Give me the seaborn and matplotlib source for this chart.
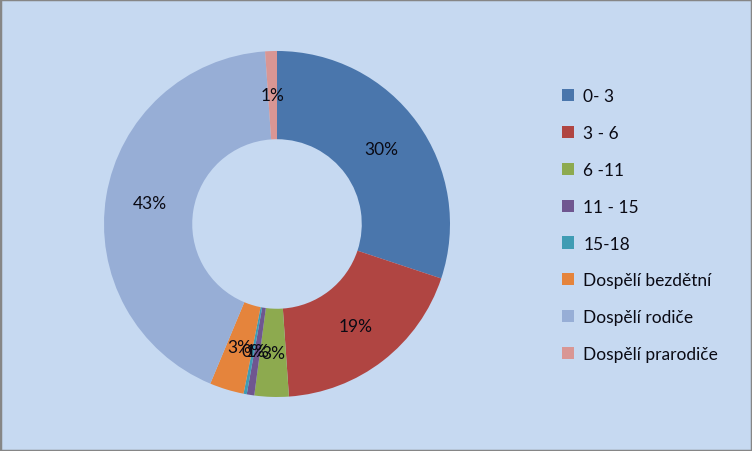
import matplotlib
matplotlib.use("Agg")
import matplotlib.pyplot as plt
import seaborn as sns
from matplotlib.patches import Rectangle

categories = ["0- 3", "3 - 6", "6 -11", "11 - 15", "15-18",
              "Dospělí bezdětní", "Dospělí rodiče", "Dospělí prarodiče"]
shares = [30.1, 18.8, 3.2, 0.7, 0.3, 3.2, 42.6, 1.1]
colors = ["#4A76AC", "#B04542", "#8DAA4F", "#6F5690", "#3F9CB4",
          "#E5843C", "#97AED6", "#D99694"]

sns.set_style("white")
plt.rcParams["font.family"] = ["Lato", "DejaVu Sans"]

bg = "#C6D9F1"
fig = plt.figure(figsize=(7.52, 4.52), dpi=100, facecolor=bg)
ax = fig.add_axes([0.1383, 0.1195, 0.4601, 0.7655])
ax.set_facecolor(bg)

wedges, texts, autotexts = ax.pie(
    shares, colors=sns.color_palette(colors), startangle=90, counterclock=False,
    radius=1.0, autopct="%.0f%%", pctdistance=0.745,
    wedgeprops=dict(width=0.51, edgecolor="none"),
    textprops=dict(fontsize=12.5, color="#0A0A14"))
ax.set_xlim(-1, 1)
ax.set_ylim(-1, 1)
ax.set_aspect("equal")
ax.axis("off")

fig.legend(wedges, categories, loc="upper left", bbox_to_anchor=(0.727, 0.837),
           frameon=False, fontsize=12.5, handlelength=0.7, handleheight=0.7,
           handletextpad=0.5, labelspacing=1.2, labelcolor="#0A0A14")

fig.patches.append(Rectangle((0, 0), 1, 1, transform=fig.transFigure, fill=False,
                             edgecolor="#868686", linewidth=2.5))
fig.savefig("out.png", dpi=100, facecolor=bg)
